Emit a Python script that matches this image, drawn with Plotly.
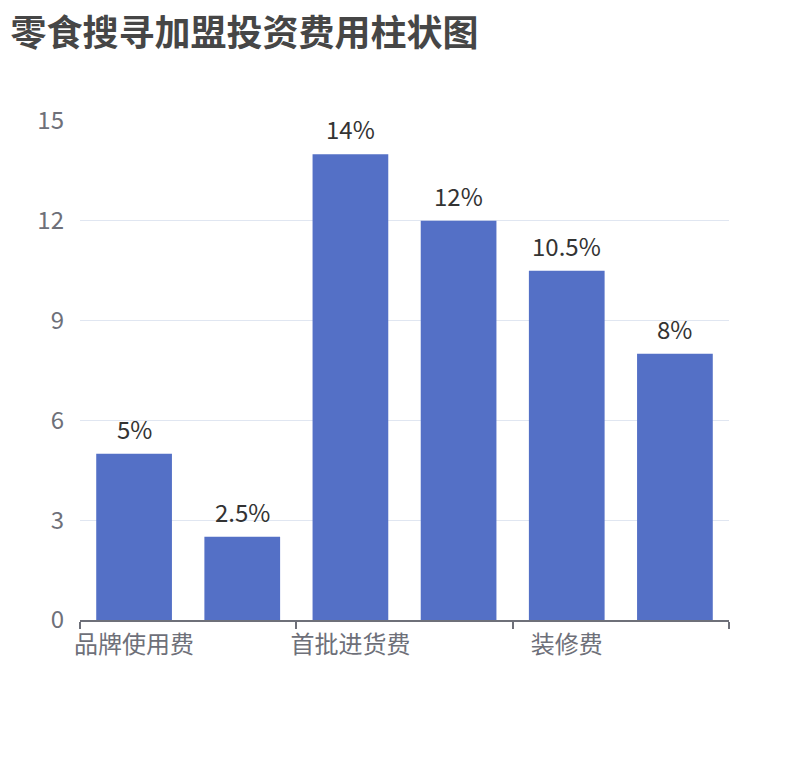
import plotly.graph_objects as go

categories = ["品牌使用费", "加盟保证金", "首批进货费", "设备采购费", "装修费", "流动资金"]
values = [5, 2.5, 14, 12, 10.5, 8]
value_labels = ["5%", "2.5%", "14%", "12%", "10.5%", "8%"]
y_ticks = [0, 3, 6, 9, 12, 15]

font_family = "Noto Sans CJK SC, Noto Sans, sans-serif"
idx = list(range(len(categories)))

fig = go.Figure()
fig.add_trace(go.Bar(
    x=idx,
    y=values,
    width=0.7,
    marker=dict(color="#5470C6", line=dict(width=0)),
    hoverinfo="skip",
))
# empty trace so the label axis gets drawn
fig.add_trace(go.Scatter(x=idx, y=values, xaxis="x2", mode="none", hoverinfo="skip"))

# value labels a little above each bar
for i, v, lab in zip(idx, values, value_labels):
    fig.add_annotation(
        x=i, y=v, text=lab, showarrow=False,
        yanchor="bottom", yshift=6,
        font=dict(size=24, color="#333333", family=font_family),
    )

# every other category label is shown, ticks sit on category boundaries
shown = idx[::2]
boundaries = [i - 0.5 for i in idx[::2]] + [idx[-1] + 0.5]

fig.update_layout(
    width=810, height=760,
    margin=dict(l=72, r=89, t=112, b=148),
    paper_bgcolor="white",
    plot_bgcolor="white",
    showlegend=False,
    font=dict(family=font_family),
    title=dict(
        text="<b>零食搜寻加盟投资费用柱状图</b>",
        x=0.003, xanchor="left", y=0.966, yanchor="middle",
        font=dict(size=36, color="#464646", family=font_family),
    ),
    xaxis=dict(
        range=[-0.5, len(categories) - 0.5],
        tickvals=boundaries,
        showticklabels=False,
        ticks="outside", ticklen=7, tickwidth=2, tickcolor="#6E7079",
        showline=True, linecolor="#6E7079", linewidth=2,
        showgrid=False, zeroline=False, fixedrange=True,
    ),
    xaxis2=dict(
        overlaying="x", anchor="y", side="bottom",
        range=[-0.5, len(categories) - 0.5],
        tickvals=shown,
        ticktext=[categories[i] for i in shown],
        ticks="", ticklabelstandoff=8,
        tickfont=dict(size=24, color="#6E7079", family=font_family),
        showline=False, showgrid=False, zeroline=False,
    ),
    yaxis=dict(
        range=[0, 15.03],
        tickvals=y_ticks,
        tickfont=dict(size=24, color="#6E7079", family=font_family),
        ticklabelstandoff=15,
        showgrid=True, gridcolor="#E0E6F1", gridwidth=1,
        zeroline=False, showline=False, ticks="",
    ),
)

fig.write_html("out.html")
